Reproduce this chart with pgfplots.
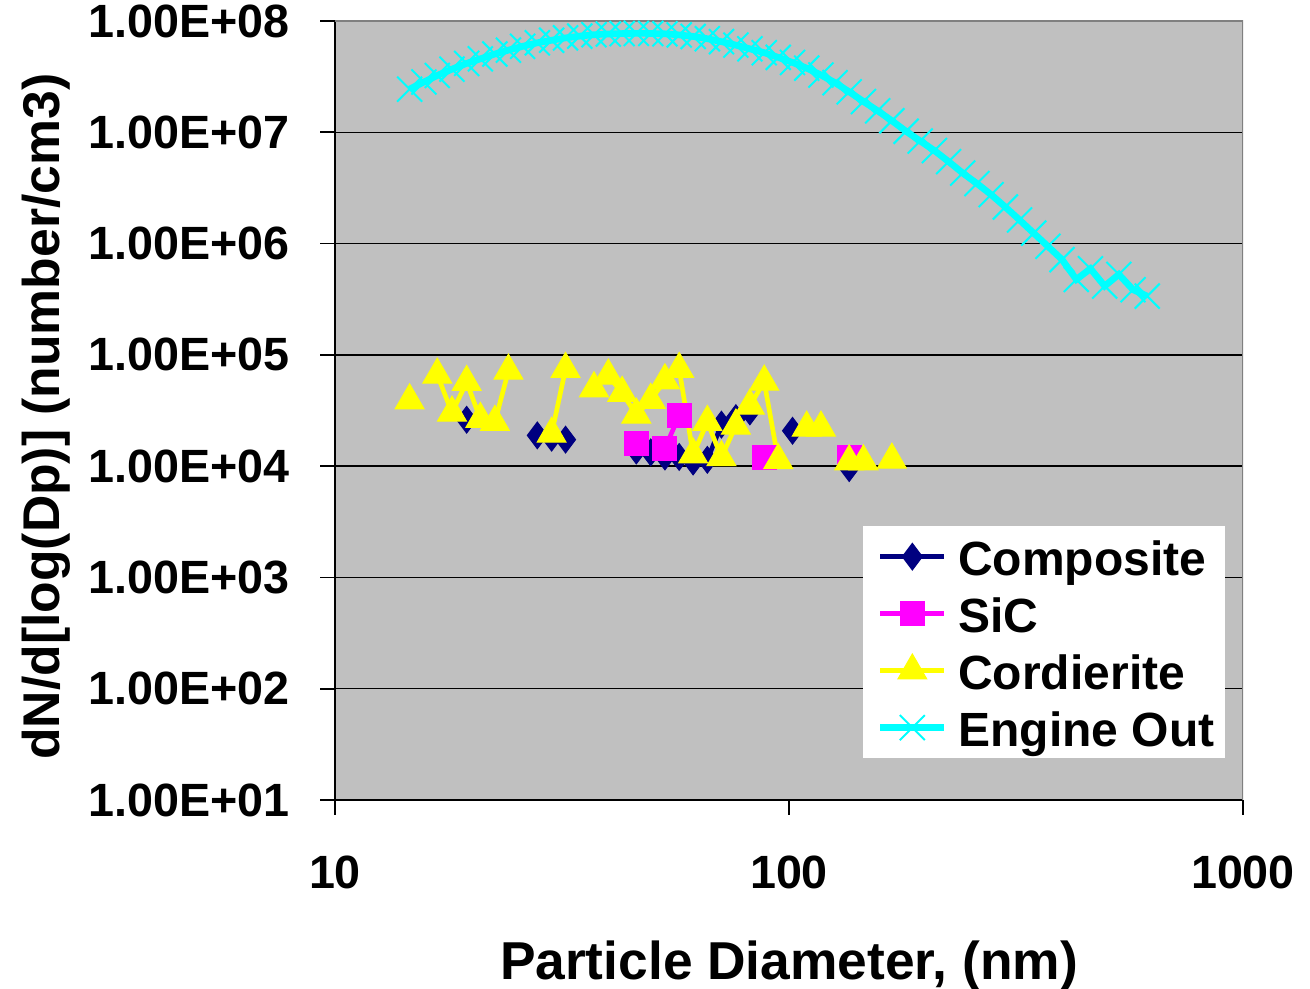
\documentclass[border=0pt]{standalone}
\usepackage{fontspec}
\setmainfont{Liberation Sans}
\usepackage{pgfplots}
\usepackage{pgfplotstable}
\pgfplotsset{compat=1.18}

\definecolor{plotgray}{RGB}{192,192,192}
\definecolor{bordergray}{RGB}{128,128,128}
\definecolor{compnavy}{RGB}{0,0,128}
\definecolor{sicmag}{RGB}{255,0,255}
\definecolor{cordyel}{RGB}{255,255,0}
\definecolor{engcyan}{RGB}{0,255,255}

% particle diameter (nm) vs dN/dlogDp (number/cm3); nan = empty channel
\pgfplotstableread{
d N
19.5 2.61e4
20.9 nan
27.9 1.89e4
30.0 1.80e4
32.2 1.73e4
34.6 nan
46.1 1.38e4
49.6 1.33e4
53.3 1.22e4
57.3 1.21e4
61.5 1.10e4
66.1 1.14e4
71.0 2.36e4
76.4 2.70e4
82.0 3.10e4
88.2 nan
101.8 2.08e4
109.4 nan
135.7 9.6e3
}\composite

\pgfplotstableread{
d N
46.1 1.59e4
49.6 nan
53.3 1.44e4
57.3 2.86e4
61.5 nan
88.2 1.20e4
94.7 nan
135.7 1.20e4
}\sic

\pgfplotstableread{
d N
14.6 3.89e4
15.7 nan
16.8 6.62e4
18.1 3.02e4
19.5 5.69e4
20.9 2.65e4
22.5 2.49e4
24.1 7.19e4
25.9 nan
30.0 1.95e4
32.2 7.45e4
34.6 nan
37.2 4.99e4
40.0 6.49e4
42.9 4.54e4
46.1 2.90e4
49.6 3.93e4
53.3 5.89e4
57.3 7.45e4
61.5 1.27e4
66.1 2.49e4
71.0 1.20e4
76.4 2.31e4
82.0 3.49e4
88.2 5.73e4
94.7 1.13e4
101.8 nan
109.4 2.21e4
117.6 2.21e4
126.3 nan
135.7 1.10e4
145.9 1.10e4
156.8 nan
168.5 1.14e4
}\cordierite

\pgfplotstableread{
d N
14.6 2.44e7
15.7 2.83e7
16.8 3.24e7
18.1 3.69e7
19.5 4.16e7
20.9 4.57e7
22.5 5.05e7
24.1 5.47e7
25.9 5.92e7
27.9 6.37e7
30.0 6.71e7
32.2 7.05e7
34.6 7.31e7
37.2 7.53e7
40.0 7.64e7
42.9 7.71e7
46.1 7.74e7
49.6 7.73e7
53.3 7.67e7
57.3 7.50e7
61.5 7.26e7
66.1 6.93e7
71.0 6.52e7
76.4 6.07e7
82.0 5.62e7
88.2 5.19e7
94.7 4.71e7
101.8 4.24e7
109.4 3.77e7
117.6 3.27e7
126.3 2.79e7
135.7 2.31e7
145.9 1.89e7
156.8 1.56e7
168.5 1.27e7
181.1 1.02e7
194.6 8.34e6
209.1 6.85e6
224.7 5.45e6
241.4 4.30e6
259.5 3.46e6
278.8 2.75e6
299.6 2.13e6
322.0 1.63e6
346.0 1.24e6
371.8 9.44e5
399.5 7.18e5
429.4 4.76e5
461.4 5.94e5
495.8 4.15e5
532.8 5.28e5
572.5 3.85e5
615.3 3.37e5
}\engineout

\begin{document}
\begin{tikzpicture}
\begin{axis}[
    scale only axis,
    width=272.4pt, height=233.7pt,
    xmode=log, ymode=log,
    xmin=10, xmax=1000, ymin=10, ymax=1e8,
    unbounded coords=jump,
    axis x line*=bottom, axis y line*=left,
    axis line style={black, line width=0.5pt},
    axis background/.style={fill=plotgray},
    ymajorgrids, major grid style={black, line width=0.45pt},
    xminorticks=false, yminorticks=false,
    tick align=outside, major tick length=4.5pt,
    tick style={black, line width=0.5pt},
    xtick={10,100,1000}, xticklabels={10,100,1000},
    ytick={1e1,1e2,1e3,1e4,1e5,1e6,1e7,1e8},
    yticklabels={1.00E+01,1.00E+02,1.00E+03,1.00E+04,1.00E+05,1.00E+06,1.00E+07,1.00E+08},
    ticklabel style={font=\fontsize{14}{17}\selectfont\bfseries},
    yticklabel style={anchor=east, inner sep=0pt, xshift=-9pt},
    xticklabel style={anchor=base, inner sep=0pt, yshift=-22pt},
    xlabel={Particle Diameter, (nm)},
    ylabel={dN/d[log(Dp)] (number/cm3)},
    xlabel style={at={(axis description cs:0.5,-0.2304)}, anchor=base,
        font=\fontsize{16}{19}\selectfont\bfseries},
    ylabel style={at={(axis description cs:-0.303,0.492)}, anchor=base, rotate=0,
        font=\fontsize{15.5}{19}\selectfont\bfseries},
    legend cell align=left,
    legend style={at={(axis description cs:0.5804,0.3524)}, anchor=north west,
        draw=none, fill=white,
        font=\fontsize{14.4}{17}\selectfont\bfseries,
        inner xsep=3.3pt, inner ysep=0.6pt, row sep=0pt,
        nodes={inner xsep=0pt, inner ysep=0pt, text height=14.2pt, text depth=2.9pt},
        /tikz/every odd column/.append style={column sep=3.2pt}},
    legend image code/.code={
        \path (0pt,0pt);
        \draw[mark repeat=2, mark phase=2, #1]
            plot coordinates {(1pt,0pt) (10.6pt,0pt) (20.2pt,0pt)};
    },
]
\addplot[compnavy, line width=1.4pt, mark=diamond*, mark size=4pt,
    mark options={solid, fill=compnavy, line width=0.3pt}]
    table[x=d, y=N] {\composite};
\addlegendentry{Composite}
\addplot[sicmag, line width=1.4pt, mark=square*, mark size=3.6pt,
    mark options={solid, fill=sicmag, line width=0.3pt}]
    table[x=d, y=N] {\sic};
\addlegendentry{SiC}
\addplot[cordyel, line width=1.4pt, mark=triangle*, mark size=5pt,
    mark options={solid, fill=cordyel, line width=0.3pt}]
    table[x=d, y=N] {\cordierite};
\addlegendentry{Cordierite}
\addplot[engcyan, line width=2pt, mark=x, mark size=5.3pt,
    mark options={solid, line width=0.6pt}]
    table[x=d, y=N] {\engineout};
\addlegendentry{Engine Out}
\draw[bordergray, line width=0.6pt]
    (rel axis cs:0,1) -- (rel axis cs:1,1) -- (rel axis cs:1,0);
\end{axis}
\pgfresetboundingbox
\path (-100.5pt,-56.7pt) rectangle (292.5pt,240pt);
\end{tikzpicture}
\end{document}
